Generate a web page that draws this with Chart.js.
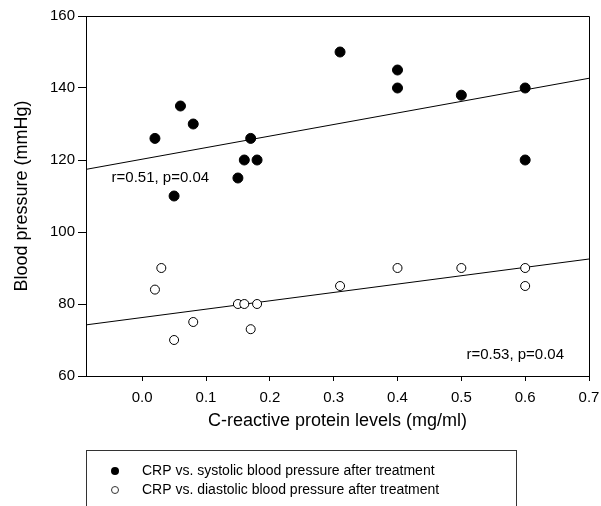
<!DOCTYPE html>
<html>
<head>
<meta charset="utf-8">
<script src="https://cdn.jsdelivr.net/npm/chart.js@4.4.0/dist/chart.umd.min.js"></script>
<style>
	body { margin: 0; background: #fff; }
	#grafico { display: block; }
</style>
</head>
<body>
<canvas id="grafico" width="601" height="506"></canvas>
<script>
// valores
var crpSistolica = [0.02, 0.06, 0.08, 0.17, 0.16, 0.18, 0.15, 0.05, 0.31, 0.40, 0.40, 0.50, 0.60, 0.60];
var sistolica = [126, 135, 130, 126, 120, 120, 115, 110, 150, 145, 140, 138, 140, 120];
var crpDiastolica = [0.02, 0.03, 0.05, 0.08, 0.15, 0.16, 0.18, 0.17, 0.31, 0.40, 0.50, 0.60, 0.60];
var diastolica = [84, 90, 70, 75, 80, 80, 80, 73, 85, 90, 90, 90, 85];

// extremos de las rectas de regresion
var rectaX = [-0.088, 0.7];
var rectaSistolica = [117.4, 142.7];
var rectaDiastolica = [74.2, 92.5];

var ticksX = [0.0, 0.1, 0.2, 0.3, 0.4, 0.5, 0.6, 0.7];
var ticksY = [60, 80, 100, 120, 140, 160];

var etiquetas = ["CRP vs. systolic blood pressure after treatment", "CRP vs. diastolic blood pressure after treatment"];
var notas = [["r=0.51, p=0.04", -0.048, 115], ["r=0.53, p=0.04", 0.508, 66]];

var fuente = "'Liberation Sans', Arial, sans-serif";

function puntos(xs, ys)
{
	var res = [];
	for(i=0; i<xs.length; i++)
		res.push({x: xs[i], y: ys[i]});
	return res;
}

function fijaTicks(valores)
{
	return function(escala)
	{
		escala.ticks = valores.map(function(v) { return {value: v}; });
	};
}

var marcoYNotas = {
	id: 'marcoYNotas',
	afterDraw: function(chart)
	{
		var ctx = chart.ctx;
		var a = chart.chartArea;
		var sx = chart.scales.x;
		var sy = chart.scales.y;
		ctx.save();
		ctx.strokeStyle = "#000";
		ctx.lineWidth = 1;
		ctx.beginPath();
		ctx.moveTo(a.left, a.top + 0.5);
		ctx.lineTo(a.right + 0.5, a.top + 0.5);
		ctx.lineTo(a.right + 0.5, a.bottom);
		ctx.stroke();

		ctx.fillStyle = "#000";
		ctx.font = "15px " + fuente;
		ctx.textAlign = "left";
		ctx.textBaseline = "middle";
		for(i=0; i<notas.length; i++)
			ctx.fillText(notas[i][0], sx.getPixelForValue(notas[i][1]), sy.getPixelForValue(notas[i][2]));

		// leyenda
		ctx.strokeStyle = "#333";
		ctx.strokeRect(86.5, 450.5, 430, 70);
		ctx.font = "14px " + fuente;
		var filas = [471, 490];
		for(i=0; i<etiquetas.length; i++)
		{
			ctx.beginPath();
			ctx.arc(115, filas[i], i == 0 ? 4 : 3.5, 0, Math.PI * 2);
			if(i == 0)
			{
				ctx.fillStyle = "#000";
				ctx.fill();
			}
			else
			{
				ctx.fillStyle = "#fff";
				ctx.fill();
				ctx.stroke();
			}
			ctx.fillStyle = "#000";
			ctx.fillText(etiquetas[i], 142, filas[i]);
		}
		ctx.restore();
	}
};

var ctx = document.getElementById("grafico");
var grafico = new Chart(ctx, {
	type: 'scatter',
	data: {
		datasets: [
			{
				label: etiquetas[0],
				data: puntos(crpSistolica, sistolica),
				backgroundColor: "#000",
				borderColor: "#000",
				pointRadius: 5,
				pointHoverRadius: 5
			},
			{
				label: etiquetas[1],
				data: puntos(crpDiastolica, diastolica),
				backgroundColor: "#fff",
				borderColor: "#000",
				borderWidth: 1,
				pointRadius: 4.5,
				pointHoverRadius: 4.5
			},
			{
				label: "fit1",
				data: puntos(rectaX, rectaSistolica),
				showLine: true,
				borderColor: "#000",
				borderWidth: 1,
				pointRadius: 0
			},
			{
				label: "fit2",
				data: puntos(rectaX, rectaDiastolica),
				showLine: true,
				borderColor: "#000",
				borderWidth: 1,
				pointRadius: 0
			}
		]
	},
	options: {
		responsive: false,
		animation: false,
		devicePixelRatio: 1,
		layout: {
			padding: {left: 0, right: 12, top: 16, bottom: 66}
		},
		plugins: {
			legend: { display: false },
			tooltip: { enabled: false }
		},
		scales: {
			x: {
				type: 'linear',
				min: -0.088,
				max: 0.7,
				afterBuildTicks: fijaTicks(ticksX),
				afterFit: function(s)
				{
					s.height = 64;
					s.paddingLeft = 0;
					s.paddingRight = 0;
				},
				border: { display: true, color: "#000", width: 1 },
				grid: { drawOnChartArea: false, drawTicks: true, tickLength: 5, color: "#000" },
				ticks: {
					color: "#000",
					padding: 8,
					maxRotation: 0,
					font: { family: fuente, size: 15 },
					callback: function(v) { return v.toFixed(1); }
				},
				title: {
					display: true,
					text: "C-reactive protein levels (mg/ml)",
					color: "#000",
					padding: {top: 0, bottom: 8},
					font: { family: fuente, size: 18 }
				}
			},
			y: {
				min: 60,
				max: 160,
				afterBuildTicks: fijaTicks(ticksY),
				afterFit: function(s)
				{
					s.width = 86;
					s.paddingTop = 0;
					s.paddingBottom = 0;
				},
				border: { display: true, color: "#000", width: 1 },
				grid: { drawOnChartArea: false, drawTicks: true, tickLength: 8, color: "#000" },
				ticks: {
					color: "#000",
					padding: 3,
					font: { family: fuente, size: 15 }
				},
				title: {
					display: true,
					text: "Blood pressure (mmHg)",
					color: "#000",
					padding: {top: 11, bottom: 0},
					font: { family: fuente, size: 18 }
				}
			}
		}
	},
	plugins: [marcoYNotas]
});
</script>
</body>
</html>
